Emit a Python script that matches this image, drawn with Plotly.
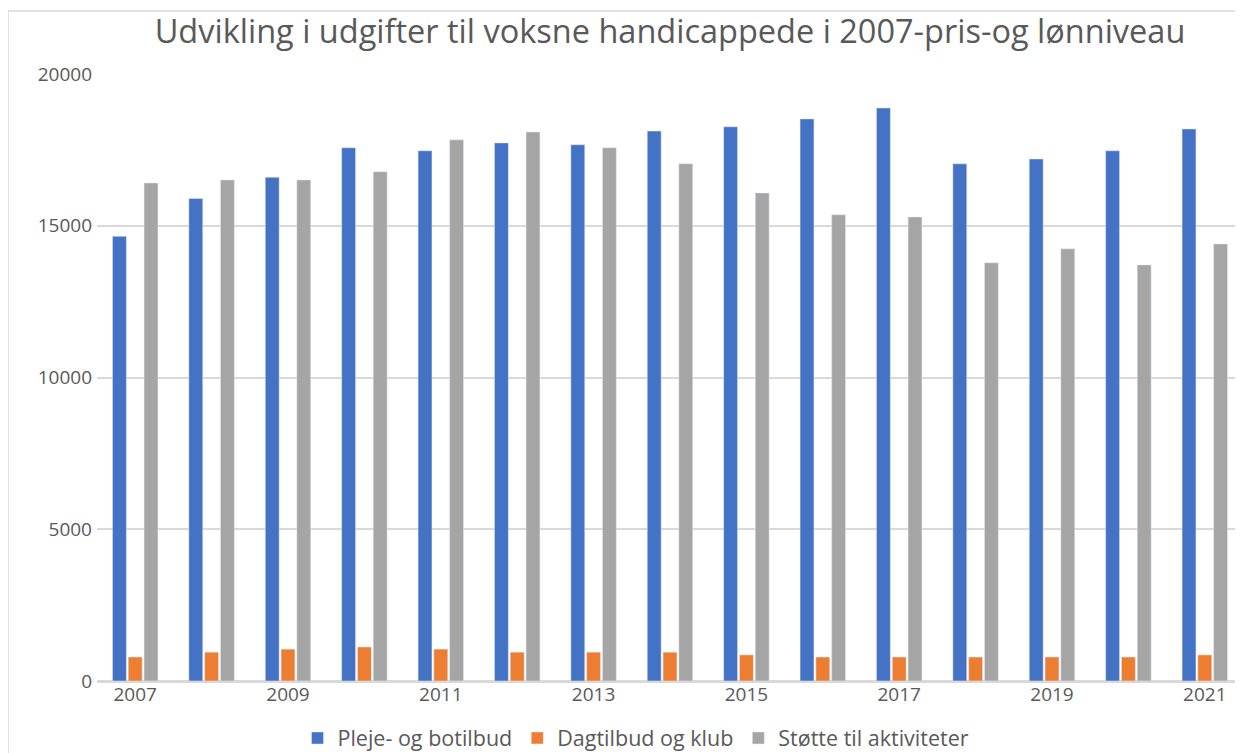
import plotly.graph_objects as go

years = [str(y) for y in range(2007, 2022)]
pleje = [14650, 15900, 16600, 17570, 17470, 17730, 17670, 18120, 18260, 18520, 18880, 17040, 17200, 17470, 18190]
dagtilbud = [790, 950, 1050, 1120, 1050, 950, 950, 950, 860, 790, 790, 790, 790, 790, 860]
stoette = [16410, 16510, 16510, 16780, 17830, 18090, 17570, 17040, 16080, 15360, 15290, 13780, 14240, 13710, 14400]
tick_years = ["2007", "2009", "2011", "2013", "2015", "2017", "2019", "2021"]

OFF = 8  # default page body margin
W, H = 1243 - OFF, 753 - OFF
ML, MR, MT, MB = 97 - OFF, 0, 74 - OFF, 753 - 681
FONT = "Open Sans"
GREY_TXT = "#595959"

fig = go.Figure()
fig.add_bar(name="Pleje- og botilbud", x=years, y=pleje, marker_color="#4472C4")
fig.add_bar(name="Dagtilbud og klub", x=years, y=dagtilbud, marker_color="#ED7D31")
fig.add_bar(name="Støtte til aktiviteter", x=years, y=stoette, marker_color="#A5A5A5")

pw = W - ML - MR
ph = H - MT - MB
def px_x(p):
    return (p - OFF - ML) / pw
def px_y(p):
    return (H - MB - (p - OFF)) / ph

fig.add_shape(type="rect", xref="paper", yref="paper",
              x0=px_x(8), x1=px_x(1300), y0=px_y(800), y1=px_y(11),
              line=dict(color="#d9d9d9", width=1.5), fillcolor="rgba(0,0,0,0)", layer="below")

fig.update_layout(
    width=W, height=H,
    margin=dict(l=ML, r=MR, t=MT, b=MB, autoexpand=False),
    paper_bgcolor="white", plot_bgcolor="white",
    barmode="group", bargap=0.38, bargroupgap=0.12,
    font=dict(family=FONT, color=GREY_TXT),
    title=dict(text="Udvikling i udgifter til voksne handicappede i 2007-pris-og lønniveau",
               x=(670 - OFF) / W, xanchor="center", y=1 - (32 - OFF) / H, yanchor="middle",
               font=dict(size=32.5, color=GREY_TXT, family=FONT)),
    showlegend=True,
    legend=dict(orientation="h", x=px_x(636), xanchor="center", y=px_y(738), yanchor="middle",
                font=dict(size=21.5, color=GREY_TXT), traceorder="normal"),
    xaxis=dict(tickmode="array", tickvals=tick_years, ticktext=tick_years,
               tickfont=dict(size=19, color=GREY_TXT), showline=False, ticks="",
               showgrid=False),
    yaxis=dict(range=[0, 20000], tickvals=[0, 5000, 10000, 15000, 20000],
               tickfont=dict(size=19, color=GREY_TXT), showgrid=True,
               gridcolor="#d9d9d9", gridwidth=1.5, zeroline=True, zerolinecolor="#d9d9d9",
               zerolinewidth=3, ticks="", ticklabelstandoff=4, tickformat="d"),
)

fig.write_html("out.html")
